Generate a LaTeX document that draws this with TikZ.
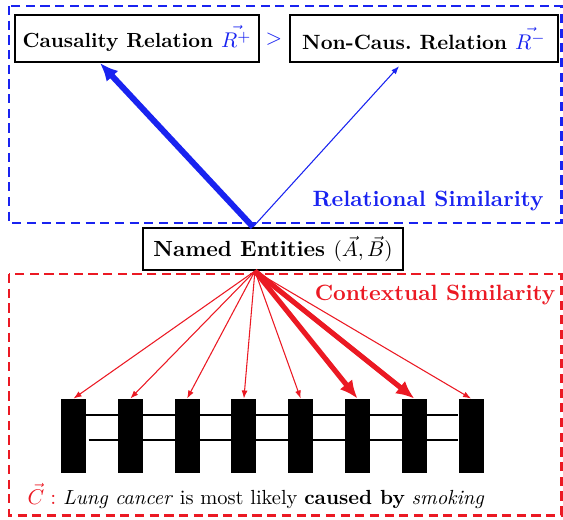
\documentclass[tikz,border=0pt]{standalone}
\usetikzlibrary{arrows.meta}
\definecolor{relblue}{RGB}{25,35,240}
\definecolor{ctxred}{RGB}{235,25,35}

\begin{document}
\begin{tikzpicture}[x=0.47pt, y=-0.47pt,
	box/.style={draw=black, line width=1pt, inner sep=1pt, font=\bfseries},
	word/.style={fill=black, minimum width=11.7pt, minimum height=34.8pt, inner sep=0pt},
	frame/.style={line width=1.4pt, dash pattern=on 4.3pt off 2.6pt},
	thin arrow/.style={line width=0.5pt, -{Latex[length=3.8pt, width=2.8pt]}},
	heavy arrow/.style={-{Latex[length=8.5pt, width=7.5pt]}},
	seq/.style={line width=1pt}]
				\useasboundingbox (0,0) rectangle (563,519);
				\draw[frame, relblue] (9,6) rectangle (561,223);
				\draw[frame, ctxred] (9,274) rectangle (561,515);
				\node[box, minimum width=114.7pt, minimum height=22pt, font=\fontsize{9.6}{11}\selectfont\bfseries] (caus) at (137,38.5) {Causality Relation \textcolor{relblue}{$\vec{R^{+}}$}};
				\node[box, minimum width=126pt, minimum height=22pt, font=\fontsize{9.7}{11}\selectfont\bfseries] (noncaus) at (424,38.5) {Non-Caus.\ Relation \textcolor{relblue}{$\vec{R^{-}}$}};
				\node[text=relblue, inner sep=0pt] (gt) at (274,39) {$>$};
				\node[box, minimum width=122pt, minimum height=19.7pt, font=\fontsize{10.3}{12}\selectfont\bfseries] (named) at (273,249) {Named Entities $(\vec{A},\vec{B})$};
				\coordinate (up) at ([xshift=-9.4pt]named.north);
				\coordinate (low) at ([xshift=-8.5pt]named.south);
				\node[text=relblue, font=\fontsize{10.4}{12}\selectfont\bfseries, anchor=base] (rel) at (428,206) {Relational Similarity};
				\node[text=ctxred, font=\fontsize{10.4}{12}\selectfont\bfseries, anchor=base] (ctx) at (435,300) {Contextual Similarity};
				\draw[relblue, line width=2.8pt, heavy arrow] (up) -- ([xshift=-17.4pt]caus.south);
				\draw[relblue, thin arrow] (up) -- ([xshift=-11.7pt, yshift=-1.5pt]noncaus.south);
				\foreach \i in {1,...,8}
					\node[word] (w\i) at ({73.5+56.8*(\i-1)},436) {};
				\draw[seq] ([yshift=9.9pt]w1.east) -- ([yshift=9.9pt]w8.west);
				\draw[seq] ([xshift=1pt, yshift=-1.9pt]w1.east) -- ([yshift=-1.9pt]w8.west);
				\foreach \i in {1,2,3,4,5,8}
					\draw[ctxred, thin arrow] (low) -- (w\i.north);
				\foreach \i in {6,7}
					\draw[ctxred, line width=2.4pt, heavy arrow] (low) -- (w\i.north);
				\node[anchor=base, font=\fontsize{9.6}{11}\selectfont] (caption) at (256,504) {\textcolor{ctxred}{$\vec{C}:$} \textit{Lung cancer} is most likely \textbf{caused by} \textit{smoking}};
\end{tikzpicture}
\end{document}
